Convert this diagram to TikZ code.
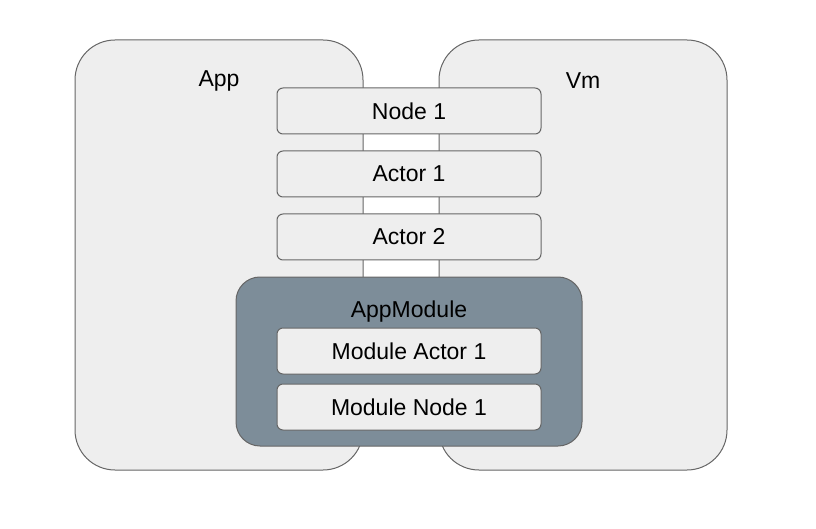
\documentclass[tikz,border=0pt]{standalone}
\usepackage{fontspec}
\setmainfont{Liberation Sans}
\definecolor{boxfill}{HTML}{EEEEEE}
\definecolor{boxline}{HTML}{666666}
\definecolor{modfill}{HTML}{7D8D99}
\begin{document}
\begin{tikzpicture}[x=1pt,y=-1pt,
  big/.style={draw=boxline,fill=boxfill,line width=1pt,rounded corners=40pt},
  mod/.style={draw=boxline,fill=modfill,line width=1pt,rounded corners=24pt},
  item/.style={draw=boxline,fill=boxfill,line width=1pt,rounded corners=6pt,minimum width=264pt,minimum height=46pt,inner sep=0pt,font=\fontsize{23}{27}\selectfont},
  lbl/.style={inner sep=0pt,font=\fontsize{23}{27}\selectfont}]
\useasboundingbox (0,0) rectangle (816,529);
\fill[white] (0,0) rectangle (816,529);
\draw[big] (75,40) rectangle (363,470);
\draw[big] (439,40) rectangle (727,470);
\node[lbl] (app) at (219,81) {App};
\node[lbl] (vm) at (583,81) {Vm};
\node[item] (n1) at (409,111) {Node 1};
\node[item] (a1) at (409,174) {Actor 1};
\node[item] (a2) at (409,237) {Actor 2};
\draw[mod] (236,277) rectangle (582,446);
\node[lbl] (am) at (409,312) {AppModule};
\node[item] (ma) at (409,351) {Module Actor 1};
\node[item] (mn) at (409,407) {Module Node 1};
\end{tikzpicture}
\end{document}
